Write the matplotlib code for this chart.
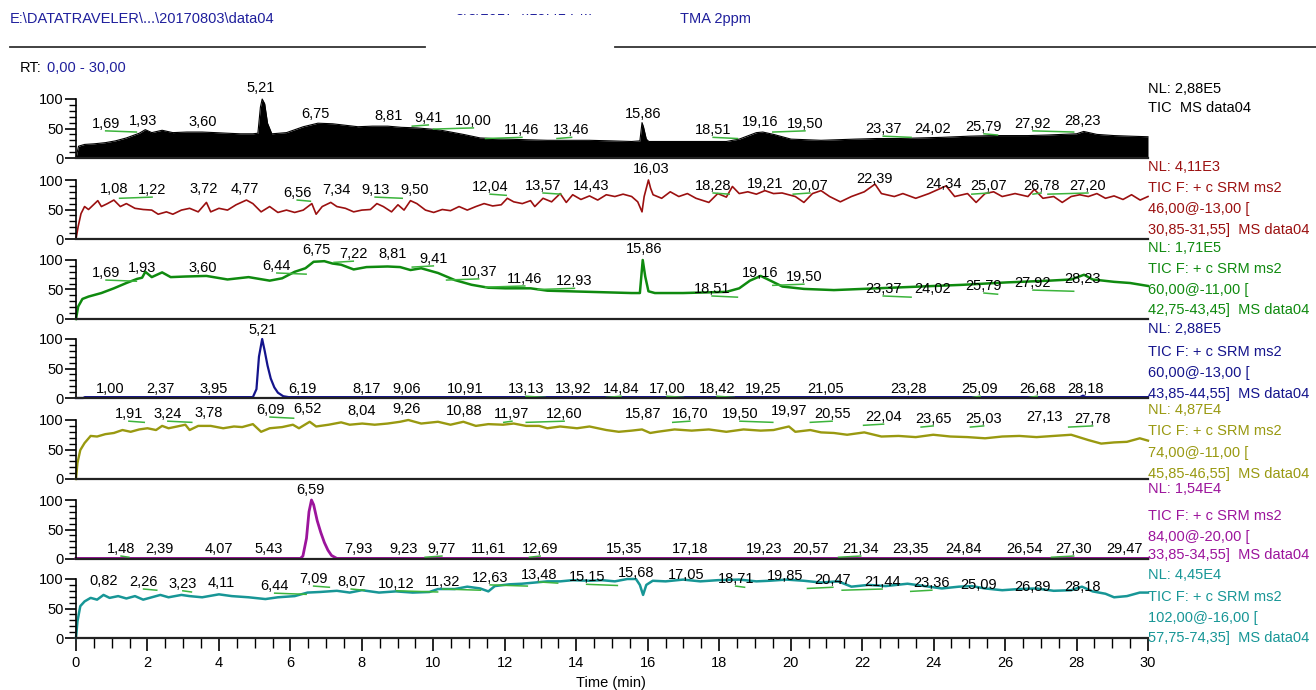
import matplotlib.pyplot as plt
from matplotlib.ticker import MultipleLocator, FixedLocator
from matplotlib.transforms import Bbox, TransformedBbox

plt.rcParams['font.family'] = ['Liberation Sans', 'DejaVu Sans']

# retention time (min) and relative abundance (%)
rt_tic = [0, 0.07, 0.24, 0.5, 0.82, 1.1, 1.41, 1.77, 1.94, 2.12,
          2.41, 2.71, 3.1, 3.53, 3.9, 4.24, 4.6, 4.95, 5.09, 5.16,
          5.21, 5.28, 5.36, 5.48, 5.89, 6.36, 6.77, 7.18, 7.89, 8.3,
          8.72, 9.1, 9.54, 10.13, 10.84, 11.31, 12.01, 12.6, 13.19, 13.8,
          14.37, 15.0, 15.55, 15.78, 15.84, 15.88, 15.96, 16.03, 16.99, 17.6,
          18.2, 18.56, 19.04, 19.22, 19.52, 20.01, 20.85, 21.8, 22.4, 23.0,
          23.6, 24.23, 25.0, 25.68, 26.64, 27.2, 27.6, 28.0, 28.2, 28.57,
          29.05, 29.5, 30.0]
ab_tic = [0, 20, 23, 24, 26, 29, 34, 42, 48, 43,
          47, 43, 44, 44, 43, 42, 41, 41, 42, 86,
          100, 92, 59, 41, 43, 53, 59, 58, 53, 54,
          54, 52, 51, 48, 40, 34, 32, 31, 30, 30,
          30, 29, 28, 29, 60, 53, 32, 28, 28, 28,
          28, 32, 43, 44, 40, 32, 30, 32, 33, 33,
          34, 35, 37, 38, 38, 39, 40, 41, 45, 40,
          38, 37, 36]

rt_46 = [0, 0.06, 0.14, 0.24, 0.35, 0.49, 0.61, 0.71, 0.88, 1.06,
         1.24, 1.41, 1.65, 1.88, 2.12, 2.3, 2.53, 2.71, 2.95, 3.18,
         3.42, 3.65, 3.77, 4.0, 4.24, 4.48, 4.77, 4.95, 5.18, 5.42,
         5.65, 5.89, 6.12, 6.36, 6.6, 6.72, 6.89, 7.13, 7.3, 7.54,
         7.77, 8.0, 8.24, 8.42, 8.6, 8.83, 9.01, 9.18, 9.36, 9.54,
         9.78, 10.01, 10.25, 10.48, 10.72, 10.95, 11.19, 11.42, 11.66, 11.9,
         12.07, 12.25, 12.49, 12.72, 12.84, 13.07, 13.31, 13.55, 13.72, 13.9,
         14.13, 14.37, 14.6, 14.84, 15.08, 15.31, 15.55, 15.72, 15.84, 15.9,
         16.02, 16.08, 16.15, 16.39, 16.63, 16.87, 17.11, 17.35, 17.71, 17.96,
         18.2, 18.37, 18.56, 18.8, 19.04, 19.28, 19.52, 19.76, 20.13, 20.37,
         20.61, 20.85, 21.09, 21.39, 21.7, 22.06, 22.36, 22.54, 22.9, 23.14,
         23.5, 23.87, 24.35, 24.59, 24.95, 25.19, 25.44, 25.68, 25.92, 26.28,
         26.64, 26.82, 27.06, 27.36, 27.6, 27.85, 28.09, 28.33, 28.57, 28.81,
         29.05, 29.3, 29.54, 29.78, 30.0]
ab_46 = [0, 21, 43, 55, 50, 58, 65, 55, 60, 66,
         55, 60, 52, 50, 49, 42, 46, 42, 49, 52,
         46, 62, 46, 52, 49, 58, 66, 60, 46, 55,
         45, 49, 45, 49, 60, 42, 55, 62, 55, 52,
         46, 49, 50, 60, 55, 46, 58, 49, 65, 60,
         49, 45, 50, 48, 55, 49, 55, 60, 56, 58,
         69, 63, 60, 65, 55, 69, 63, 77, 62, 75,
         67, 73, 66, 75, 72, 76, 72, 63, 46, 72,
         100, 86, 75, 69, 80, 72, 77, 69, 62, 77,
         71, 89, 77, 80, 76, 82, 77, 78, 72, 62,
         77, 82, 72, 63, 72, 80, 93, 77, 72, 77,
         69, 77, 90, 72, 77, 62, 77, 80, 72, 77,
         72, 84, 69, 72, 62, 72, 75, 72, 77, 69,
         73, 67, 75, 66, 72]

rt_60a = [0, 0.06, 0.18, 0.35, 0.71, 1.06, 1.41, 1.71, 1.85, 1.94,
          2.12, 2.41, 2.65, 3.06, 3.65, 4.24, 4.83, 5.42, 5.77, 6.12,
          6.42, 6.65, 6.95, 7.18, 7.42, 7.77, 8.13, 8.72, 9.07, 9.36,
          9.66, 10.13, 10.6, 11.07, 11.54, 12.01, 12.72, 13.19, 14.37, 15.55,
          15.78, 15.86, 15.93, 16.02, 16.2, 16.99, 18.2, 18.56, 18.86, 19.16,
          19.4, 19.77, 20.37, 21.21, 22.42, 23.62, 24.83, 26.04, 27.24, 27.85,
          28.21, 28.45, 29.05, 29.5, 30.0]
ab_60a = [0, 21, 34, 38, 44, 52, 61, 68, 70, 80,
          71, 79, 71, 72, 73, 67, 71, 65, 69, 80,
          86, 97, 98, 94, 92, 84, 88, 89, 88, 83,
          86, 78, 66, 58, 53, 52, 52, 48, 46, 44,
          44, 100, 72, 47, 44, 44, 46, 52, 65, 73,
          66, 55, 51, 49, 52, 55, 58, 62, 65, 67,
          75, 67, 63, 61, 56]

rt_60b = [0, 0.2, 0.25, 4.95, 5.05, 5.12, 5.21, 5.28, 5.36, 5.45,
          5.55, 5.65, 5.8, 5.95, 28.1, 28.18, 28.26, 30.0]
ab_60b = [0, 0, 1.5, 1.5, 15, 70, 100, 80, 55, 33,
          18, 9, 3, 1.5, 1.5, 4, 1.5, 1.5]

rt_74 = [0, 0.04, 0.12, 0.24, 0.41, 0.59, 0.82, 1.06, 1.3, 1.53,
         1.77, 2.0, 2.24, 2.41, 2.59, 2.83, 3.06, 3.18, 3.42, 3.77,
         4.12, 4.42, 4.65, 4.95, 5.18, 5.42, 5.77, 6.07, 6.24, 6.54,
         6.72, 7.07, 7.42, 7.66, 8.01, 8.36, 8.72, 9.07, 9.3, 9.66,
         10.13, 10.48, 10.84, 11.19, 11.54, 11.95, 12.25, 12.6, 12.96, 13.19,
         13.55, 14.02, 14.37, 14.84, 15.19, 15.55, 15.84, 16.07, 16.27, 16.75,
         17.23, 17.71, 18.2, 18.68, 19.16, 19.52, 19.95, 20.13, 20.55, 20.85,
         21.21, 21.58, 22.06, 22.54, 23.02, 23.5, 23.99, 24.47, 24.95, 25.44,
         25.92, 26.4, 26.88, 27.36, 27.85, 28.33, 28.69, 29.05, 29.41, 29.77,
         30.0]
ab_74 = [0, 27, 49, 61, 73, 72, 76, 78, 83, 80,
         84, 86, 83, 90, 86, 89, 92, 83, 90, 90,
         86, 89, 88, 93, 80, 86, 88, 92, 86, 97,
         89, 92, 96, 92, 94, 92, 94, 97, 100, 94,
         97, 92, 97, 90, 93, 92, 94, 90, 90, 86,
         89, 86, 89, 83, 80, 82, 84, 78, 80, 84,
         82, 84, 80, 84, 82, 83, 89, 80, 83, 79,
         78, 75, 79, 72, 73, 71, 75, 72, 71, 69,
         72, 73, 71, 73, 75, 66, 60, 62, 63, 69,
         65]

rt_84 = [0, 6.28, 6.35, 6.45, 6.52, 6.59, 6.65, 6.75, 6.85, 6.95,
         7.05, 7.15, 7.3, 30.0]
ab_84 = [1, 1, 5, 35, 80, 100, 92, 65, 45, 28,
         15, 6, 1, 1]

rt_102 = [0, 0.04, 0.12, 0.24, 0.41, 0.59, 0.77, 0.94, 1.18, 1.41,
          1.65, 1.88, 2.12, 2.36, 2.59, 2.95, 3.18, 3.53, 4.0, 4.36,
          4.83, 5.3, 5.65, 6.12, 6.48, 6.83, 7.3, 7.66, 8.0, 8.48,
          8.95, 9.42, 9.89, 10.13, 10.6, 10.95, 11.31, 11.54, 11.72, 12.13,
          12.48, 12.84, 13.19, 13.55, 13.9, 14.37, 14.72, 15.08, 15.43, 15.67,
          15.78, 15.87, 15.96, 16.14, 16.5, 16.99, 17.47, 17.96, 18.56, 19.04,
          19.4, 19.88, 20.37, 20.85, 21.33, 21.7, 22.18, 22.66, 23.27, 23.75,
          24.23, 24.71, 25.07, 25.44, 25.92, 26.4, 26.88, 27.36, 27.85, 28.15,
          28.45, 28.81, 29.05, 29.41, 29.77, 30.0]
ab_102 = [0, 28, 54, 62, 68, 65, 73, 68, 71, 67,
          71, 65, 69, 73, 69, 73, 71, 69, 74, 71,
          69, 66, 69, 71, 77, 78, 80, 77, 81, 77,
          79, 77, 78, 83, 83, 87, 84, 79, 88, 91,
          92, 94, 96, 96, 98, 97, 98, 96, 100, 100,
          90, 73, 90, 97, 96, 99, 96, 98, 99, 96,
          97, 99, 97, 94, 96, 87, 90, 88, 92, 88,
          84, 87, 88, 84, 81, 83, 84, 80, 81, 87,
          79, 75, 69, 71, 77, 77]

# peak labels: text, label centre (min), label height (%)
lab_tic = ['1,69', '1,93', '3,60', '5,21', '6,75', '8,81', '9,41', '10,00', '11,46', '13,46',
           '15,86', '18,51', '19,16', '19,50', '23,37', '24,02', '25,79', '27,92', '28,23']
lx_tic = [0.83, 1.88, 3.55, 5.18, 6.71, 8.75, 9.86, 11.12, 12.48, 13.87,
          15.87, 17.83, 19.14, 20.4, 22.59, 23.96, 25.41, 26.78, 28.18]
ly_tic = [58, 63, 61, 119, 75, 71, 68, 63, 47, 47,
          75, 47, 61, 58, 49, 49, 53, 58, 63]

lab_46 = ['1,08', '1,22', '3,72', '4,77', '6,56', '7,34', '9,13', '9,50', '12,04', '13,57',
          '14,43', '16,03', '18,28', '19,21', '20,07', '22,39', '24,34', '25,07', '26,78', '27,20']
lx_46 = [1.06, 2.13, 3.58, 4.73, 6.19, 7.3, 8.37, 9.49, 11.59, 13.07,
         14.41, 16.09, 17.83, 19.28, 20.54, 22.36, 24.29, 25.55, 27.01, 28.32]
ly_46 = [85, 83, 85, 85, 78, 83, 83, 83, 88, 90,
         90, 119, 90, 93, 90, 102, 93, 90, 90, 90]

lab_60a = ['1,69', '1,93', '3,60', '6,44', '6,75', '7,22', '8,81', '9,41', '10,37', '11,46',
           '12,93', '15,86', '18,51', '19,16', '19,50', '23,37', '24,02', '25,79', '27,92', '28,23']
lx_60a = [0.84, 1.85, 3.54, 5.62, 6.72, 7.76, 8.85, 10.0, 11.27, 12.56,
          13.95, 15.9, 17.8, 19.14, 20.37, 22.59, 23.96, 25.41, 26.78, 28.18]
ly_60a = [78, 86, 86, 90, 117, 110, 110, 102, 80, 68,
          64, 119, 51, 78, 71, 51, 51, 56, 61, 68]

lab_60b = ['1,00', '2,37', '3,95', '5,21', '6,19', '8,17', '9,06', '10,91', '13,13', '13,92',
           '14,84', '17,00', '18,42', '19,25', '21,05', '23,28', '25,09', '26,68', '28,18']
lx_60b = [0.95, 2.35, 3.86, 5.21, 6.35, 8.12, 9.24, 10.89, 12.59, 13.91,
          15.25, 16.54, 17.94, 19.23, 20.99, 23.31, 25.3, 26.9, 28.24]
ly_60b = [15, 15, 15, 115, 15, 15, 15, 15, 15, 15,
          15, 15, 15, 15, 15, 15, 15, 15, 15]

lab_74 = ['1,91', '3,24', '3,78', '6,09', '6,52', '8,04', '9,26', '10,88', '11,97', '12,60',
          '15,87', '16,70', '19,50', '19,97', '20,55', '22,04', '23,65', '25,03', '27,13', '27,78']
lx_74 = [1.48, 2.57, 3.72, 5.43, 6.49, 7.98, 9.25, 10.86, 12.2, 13.66,
         15.87, 17.18, 18.58, 19.95, 21.16, 22.6, 23.99, 25.4, 27.09, 28.45]
ly_74 = [110, 110, 112, 117, 119, 115, 119, 115, 110, 110,
         110, 110, 110, 115, 110, 105, 102, 102, 105, 102]

lab_84 = ['1,48', '2,39', '4,07', '5,43', '6,59', '7,93', '9,23', '9,77', '11,61', '12,69',
          '15,35', '17,18', '19,23', '20,57', '21,34', '23,35', '24,84', '26,54', '27,30', '29,47']
lx_84 = [1.26, 2.33, 4.01, 5.38, 6.57, 7.9, 9.17, 10.24, 11.55, 12.99,
         15.35, 17.2, 19.25, 20.57, 21.96, 23.34, 24.85, 26.53, 27.92, 29.33]
ly_84 = [17, 17, 17, 17, 117, 17, 17, 17, 17, 17,
         17, 17, 17, 17, 17, 17, 17, 17, 17, 17]

lab_102 = ['0,82', '2,26', '3,23', '4,11', '6,44', '7,09', '8,07', '10,12', '11,32', '12,63', '13,48',
           '15,15', '15,68', '17,05', '18,71', '19,85', '20,47', '21,44', '23,36', '25,09', '26,89', '28,18']
lx_102 = [0.77, 1.89, 2.99, 4.07, 5.56, 6.65, 7.7, 8.97, 10.26, 11.59, 12.96,
          14.29, 15.67, 17.07, 18.46, 19.85, 21.18, 22.56, 23.95, 25.27, 26.78, 28.16]
ly_102 = [97, 95, 92, 93, 88, 100, 95, 92, 95, 102, 107,
          103, 110, 107, 100, 105, 98, 95, 93, 90, 86, 86]

# right-hand trace descriptions
info_tic = ['NL: 2,88E5', 'TIC  MS data04']
info_46 = ['NL: 4,11E3', 'TIC F: + c SRM ms2', '46,00@-13,00 [', '30,85-31,55]  MS data04']
info_60a = ['NL: 1,71E5', 'TIC F: + c SRM ms2', '60,00@-11,00 [', '42,75-43,45]  MS data04']
info_60b = ['NL: 2,88E5', 'TIC F: + c SRM ms2', '60,00@-13,00 [', '43,85-44,55]  MS data04']
info_74 = ['NL: 4,87E4', 'TIC F: + c SRM ms2', '74,00@-11,00 [', '45,85-46,55]  MS data04']
info_84 = ['NL: 1,54E4', 'TIC F: + c SRM ms2', '84,00@-20,00 [', '33,85-34,55]  MS data04']
info_102 = ['NL: 4,45E4', 'TIC F: + c SRM ms2', '102,00@-16,00 [', '57,75-74,35]  MS data04']

panels = [
    dict(rt=rt_tic, ab=ab_tic, lab=lab_tic, lx=lx_tic, ly=ly_tic, info=info_tic,
         color='black', lw=0.8, fill=True, zero=158, info_y=[89, 108]),
    dict(rt=rt_46, ab=ab_46, lab=lab_46, lx=lx_46, ly=ly_46, info=info_46,
         color='#9b1010', lw=1.2, fill=False, zero=239, info_y=[167, 188, 209, 230]),
    dict(rt=rt_60a, ab=ab_60a, lab=lab_60a, lx=lx_60a, ly=ly_60a, info=info_60a,
         color='#0f8a0f', lw=1.8, fill=False, zero=319, info_y=[248, 269, 290, 310]),
    dict(rt=rt_60b, ab=ab_60b, lab=lab_60b, lx=lx_60b, ly=ly_60b, info=info_60b,
         color='#14148c', lw=1.6, fill=False, zero=398, info_y=[329, 352, 373, 394]),
    dict(rt=rt_74, ab=ab_74, lab=lab_74, lx=lx_74, ly=ly_74, info=info_74,
         color='#999910', lw=1.7, fill=False, zero=479, info_y=[410, 431, 453, 474]),
    dict(rt=rt_84, ab=ab_84, lab=lab_84, lx=lx_84, ly=ly_84, info=info_84,
         color='#9c149c', lw=2.0, fill=False, zero=559, info_y=[489, 516, 537, 555]),
    dict(rt=rt_102, ab=ab_102, lab=lab_102, lx=lx_102, ly=ly_102, info=info_102,
         color='#179696', lw=1.8, fill=False, zero=638, info_y=[575, 597, 618, 638]),
]

W, H = 1316, 690
fig = plt.figure(figsize=(W / 100, H / 100), dpi=100)
blue = '#1f1f9c'
fs = 10.5


def fx(px):
    return px / W


def fy(py):
    return 1 - py / H


ph = 78                 # panel height in pixels
ymax = ph / 59 * 100    # 0..100 spans 59 px

for i, p in enumerate(panels):
    ax = fig.add_axes([fx(76), fy(p['zero']), 1072 / W, ph / H])
    ax.set_xlim(0, 30)
    ax.set_ylim(0, ymax)
    ax.patch.set_visible(False)
    ax.spines['top'].set_visible(False)
    ax.spines['right'].set_visible(False)
    ax.spines['left'].set_bounds(0, 100)
    ax.spines['left'].set_linewidth(1.2)
    ax.spines['bottom'].set_linewidth(1.6)
    ax.spines['bottom'].set_color('#222222')

    ax.yaxis.set_major_locator(FixedLocator([0, 50, 100]))
    ax.yaxis.set_minor_locator(FixedLocator(list(range(0, 101, 10))))
    ax.tick_params(axis='y', which='major', length=8, width=1.2, labelsize=fs, pad=1)
    ax.tick_params(axis='y', which='minor', length=5, width=1.0)

    if i == len(panels) - 1:
        ax.xaxis.set_major_locator(MultipleLocator(2))
        ax.xaxis.set_minor_locator(MultipleLocator(0.5))
        ax.tick_params(axis='x', which='major', length=9, width=1.2, labelsize=fs, pad=4)
        ax.tick_params(axis='x', which='minor', length=7, width=1.0)
    else:
        ax.tick_params(axis='x', which='both', bottom=False, labelbottom=False)

    if p['fill']:
        ax.fill_between(p['rt'], 0, p['ab'], color=p['color'], lw=0)
    ax.plot(p['rt'], p['ab'], color=p['color'], lw=p['lw'], clip_on=False)

    for s, lx, ly in zip(p['lab'], p['lx'], p['ly']):
        ax.text(lx, ly, s, ha='center', va='center', fontsize=10.5, clip_on=False)
        peak = float(s.replace(',', '.'))
        if abs(peak - lx) > 0.2:
            ax.plot([peak, lx], [ly - 14, ly - 12], color='#3cb43c', lw=1.1, clip_on=False)

    for s, y in zip(p['info'], p['info_y']):
        fig.text(fx(1148), fy(y), s, color=p['color'], fontsize=fs, va='center', ha='left')

# header
fig.text(fx(10), fy(19), 'E:\\DATATRAVELER\\...\\20170803\\data04', color=blue,
         fontsize=fs, va='center')
date = fig.text(fx(524), fy(11), '3/8/2017 4:15:41 PM', color=blue, fontsize=fs,
                va='center', ha='center')
date.set_clip_box(TransformedBbox(Bbox([[fx(400), fy(20)], [fx(650), fy(13.5)]]),
                                  fig.transFigure))
date.set_clip_on(True)
fig.text(fx(680), fy(19), 'TMA 2ppm', color=blue, fontsize=fs, va='center')
fig.add_artist(plt.Line2D([fx(10), fx(425)], [fy(47), fy(47)], color='#333333', lw=1.3))
fig.add_artist(plt.Line2D([fx(615), fx(1316)], [fy(47), fy(47)], color='#333333', lw=1.3))
fig.text(fx(20), fy(68), 'RT:', color='black', fontsize=fs, va='center')
fig.text(fx(47), fy(68), '0,00 - 30,00', color=blue, fontsize=fs, va='center')
fig.text(fx(611), fy(683), 'Time (min)', fontsize=fs, ha='center', va='center')

fig.savefig('out.png', dpi=100)
